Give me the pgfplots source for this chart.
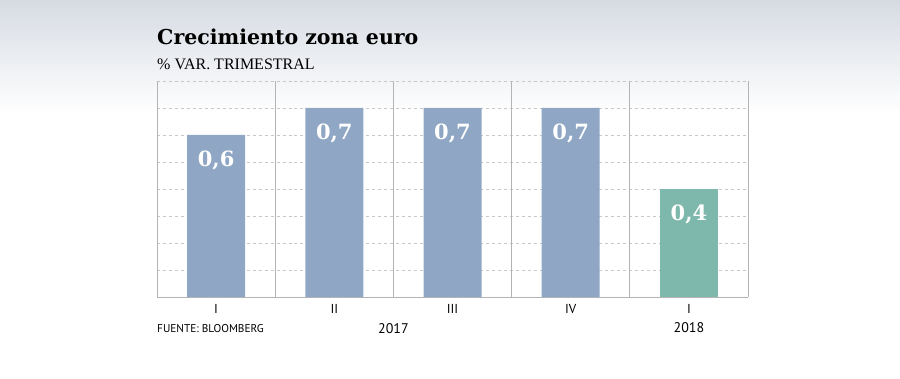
\documentclass[border=0pt]{standalone}
\usepackage{pgfplots}
\pgfplotsset{compat=1.18}
\usepackage{fontspec}
\setmainfont{PT Sans}
\newfontfamily\titlefont{DejaVu Serif}
\newfontfamily\subfont{Liberation Serif}
\newfontfamily\labfont{DejaVu Serif}
\definecolor{gradtop}{RGB}{214,219,227}
\definecolor{barblue}{RGB}{143,167,197}
\definecolor{bargreen}{RGB}{126,183,171}
\definecolor{gridc}{RGB}{200,200,200}
\definecolor{framec}{RGB}{180,180,180}
\pgfplotstableread{
x y
0 0.6
1 0.7
2 0.7
3 0.7
}\blue
\pgfplotstableread{
x y
4 0.4
}\green
\begin{document}
\begin{tikzpicture}[x=1bp,y=1bp]
\useasboundingbox (0,0) rectangle (900,378);
\shade[top color=gradtop, bottom color=white] (0,265) rectangle (900,378);
\node[anchor=base west, inner sep=0, font=\titlefont\bfseries\fontsize{20.5bp}{24bp}\selectfont] at (157,334) {Crecimiento zona euro};
\node[anchor=base west, inner sep=0, font=\subfont\fontsize{16bp}{18bp}\selectfont] at (157,309) {\% VAR. TRIMESTRAL};
\node[anchor=base west, inner sep=0, font=\fontsize{11.3bp}{13bp}\selectfont] at (157,46) {FUENTE: BLOOMBERG};
\begin{axis}[
  at={(157bp,81bp)}, anchor=south west,
  scale only axis, width=591bp, height=216bp,
  xmin=-0.5, xmax=4.5, ymin=0, ymax=0.8,
  axis x line=bottom, axis y line=left,
  x axis line style={-, draw=framec, line width=0.8pt},
  y axis line style={draw=none},
  ytick={0.1,0.2,0.3,0.4,0.5,0.6,0.7,0.8},
  yticklabels={},
  ymajorgrids, y grid style={dashed, draw=gridc, line width=0.6pt},
  xtick={0,1,2,3,4},
  xticklabels={I,II,III,IV,{I\\[4bp]\fontsize{14bp}{16bp}\selectfont 2018}},
  xticklabel style={align=center, font=\fontsize{13bp}{15bp}\selectfont, text=black, yshift=-4bp},
  major tick length=0pt,
  extra x ticks={-0.5,0.5,1.5,2.5,3.5,4.5},
  extra x tick labels={},
  extra x tick style={xmajorgrids, x grid style={solid, draw=framec, line width=0.8pt}},
  ybar, bar width=58bp, bar shift=0pt,
  /pgf/number format/assume math mode=true,
  nodes near coords={\pgfmathprintnumber[fixed, precision=1, use comma, assume math mode=true]{\pgfplotspointmeta}},
  every node near coord/.append style={anchor=center, yshift=-25bp, text=white, font=\labfont\bfseries\fontsize{21bp}{24bp}\selectfont},
  clip=false,
]
\addplot[fill=barblue, draw=none] table[x=x,y=y] {\blue};
\addplot[fill=bargreen, draw=none] table[x=x,y=y] {\green};
\node[font=\fontsize{14bp}{16bp}\selectfont, anchor=base] at (axis cs:1.5,0) [yshift=-36bp] {2017};
\end{axis}
\end{tikzpicture}
\end{document}
